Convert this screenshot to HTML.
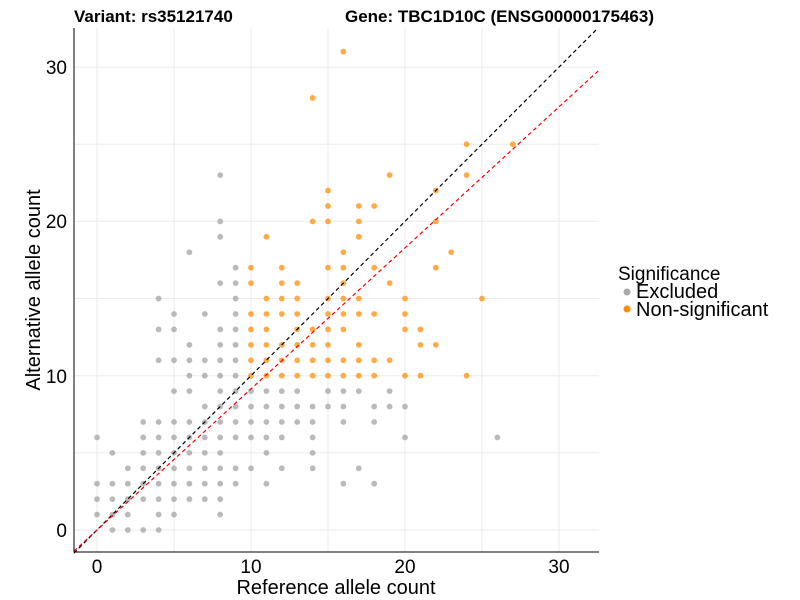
<!DOCTYPE html>
<html><head><meta charset="utf-8">
<style>
body{margin:0;background:#fff;}
svg{display:block;font-family:"Liberation Sans",Arial,sans-serif;}
</style></head>
<body>
<svg id="s" width="800" height="600" xmlns="http://www.w3.org/2000/svg">
<rect width="800" height="600" fill="#fff"/>
<g id="grid" stroke="#ebebeb" stroke-width="1"></g>
<g id="pts"></g>
<line id="bl" stroke="#000" stroke-width="1.2" stroke-dasharray="4,3"/>
<line id="rl" stroke="#ff0000" stroke-width="1.2" stroke-dasharray="4,3"/>
<line x1="74" y1="28" x2="74" y2="552" stroke="#000" stroke-width="1"/>
<line x1="74" y1="552" x2="599" y2="552" stroke="#000" stroke-width="1"/>
<g font-size="19" fill="#000" text-anchor="end">
<text x="67" y="537">0</text><text x="67" y="383">10</text><text x="67" y="228">20</text><text x="67" y="74">30</text>
</g>
<g font-size="19" fill="#000" text-anchor="middle">
<text x="97" y="573">0</text><text x="251" y="573">10</text><text x="405" y="573">20</text><text x="559" y="573">30</text>
</g>
<text x="336" y="594" font-size="20" text-anchor="middle">Reference allele count</text>
<text transform="translate(40,290) rotate(-90)" font-size="20" text-anchor="middle">Alternative allele count</text>
<text x="74" y="22" font-size="17" font-weight="bold">Variant: rs35121740</text>
<text x="345" y="22" font-size="17" font-weight="bold">Gene: TBC1D10C (ENSG00000175463)</text>
<text x="618" y="280" font-size="19">Significance</text>
<circle cx="627" cy="292" r="3.5" fill="#aaaaaa"/>
<text x="636" y="298" font-size="20">Excluded</text>
<circle cx="627" cy="309" r="3.5" fill="#ff8c00"/>
<text x="636" y="316" font-size="20">Non-significant</text>
</svg>
<script>
var X=function(v){return 97+v*15.4;},Y=function(v){return 530-v*15.43;};
var NS="http://www.w3.org/2000/svg";
var g=document.getElementById('grid');
function ln(p,x1,y1,x2,y2,a){var l=document.createElementNS(NS,'line');l.setAttribute('x1',x1);l.setAttribute('y1',y1);l.setAttribute('x2',x2);l.setAttribute('y2',y2);if(a)for(var k in a)l.setAttribute(k,a[k]);p.appendChild(l);}
[0,5,10,15,20,25,30].forEach(function(v){ln(g,X(v),28,X(v),552);ln(g,74,Y(v),599,Y(v));});
var grey={18:[6],17:[9],16:[8,9],15:[4,9],14:[5,7,9],13:[4,5,8,9],12:[6,8,9],11:[4,5,6,7,8,9],10:[6,7,8,9],
9:[5,6,8,9,10,11,12,13,15,16,17,19],8:[7,8,9,10,11,12,13,14,15,16,18,19,20],7:[3,4,5,6,7,8,9,10,11,12,13,14,16,18],
6:[0,3,4,5,6,7,8,9,10,11,12,14,20,26],5:[1,3,4,5,6,7,8,11,14],4:[2,3,4,5,6,7,8,9,10,12,14,17],3:[0,1,2,3,4,5,6,7,8,9,11,16,18],
2:[0,1,2,3,4,5,6,7,8],1:[0,1,2,4,5,8],0:[1,2,3,4],23:[8],20:[8],19:[8]};
var orng={31:[16],28:[14],25:[24,27],23:[19,24],22:[15,22],21:[15,17,18],20:[14,15,17,22],19:[11,17],18:[16,23],
17:[10,12,15,16,18,22],16:[10,12,13,16,19],15:[11,12,13,15,16,17,20,25],14:[10,11,12,13,15,16,17,18,20],
13:[10,11,13,14,15,16,20,21],12:[10,11,12,13,14,15,17,21,22],11:[10,11,12,13,14,15,16,17,18,19],10:[10,11,12,13,14,15,16,17,18,20,21,24]};
var p=document.getElementById('pts');
function add(m,c){for(var y in m)m[y].forEach(function(x){var e=document.createElementNS(NS,'circle');e.setAttribute('cx',X(x));e.setAttribute('cy',Y(+y));e.setAttribute('r',2.9);e.setAttribute('fill',c);e.setAttribute('fill-opacity',0.72);p.appendChild(e);});}
add(grey,'#a0a0a0');add(orng,'#ff8c00');
var b=document.getElementById('bl');b.setAttribute('x1',X(-1.5));b.setAttribute('y1',Y(-1.5));b.setAttribute('x2',X(32.5));b.setAttribute('y2',Y(32.5));
var r=document.getElementById('rl');r.setAttribute('x1',X(-1.5));r.setAttribute('y1',Y(-1.37));r.setAttribute('x2',X(32.6));r.setAttribute('y2',Y(29.8));
</script>
</body></html>
